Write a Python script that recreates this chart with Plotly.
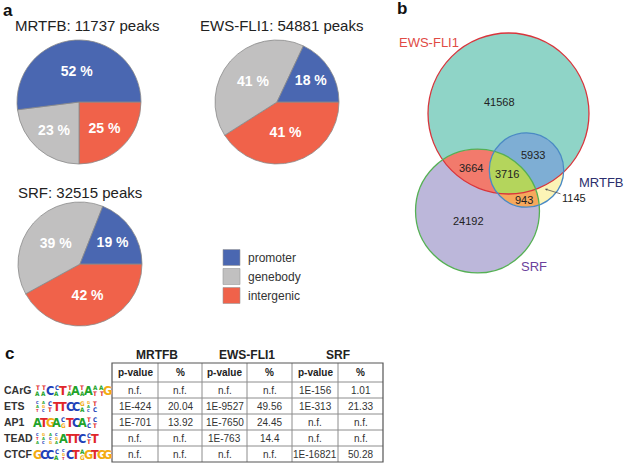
import numpy as np
import plotly.graph_objects as go

W, H = 626, 463
FONT = "Liberation Sans, Arial, sans-serif"

# ---------------- data ----------------
regions = ["promoter", "genebody", "intergenic"]
region_colors = ["#4a67b1", "#c1c0c0", "#f0624a"]
pie_names = ["MRTFB", "EWS-FLI1", "SRF"]
pie_peaks = [11737, 54881, 32515]
pie_values = [[52, 23, 25], [18, 41, 41], [19, 39, 42]]

venn_sets = ["EWS-FLI1", "SRF", "MRTFB"]
venn_only = {"EWS-FLI1": 41568, "SRF": 24192, "MRTFB": 1145}
venn_pair = {("EWS-FLI1", "SRF"): 3664, ("EWS-FLI1", "MRTFB"): 5933, ("SRF", "MRTFB"): 943}
venn_all = 3716

motif_names = ["CArG", "ETS", "AP1", "TEAD", "CTCF"]
motif_logos = [
    ["TA", "TA", "C", "CA", "T", "TA", "A", "TA", "A", "AT", "AT", "G"],
    ["CAT", "AGC", "CT", "T", "T", "C", "C", "GA", "GAC", "TC"],
    ["A", "T", "G", "A", "CG", "T", "C", "A", "TC", "CT"],
    ["CTA", "GAC", "ACG", "CGA", "A", "T", "T", "C", "CT", "T"],
    ["G", "C", "C", "CA", "CGT", "C", "T", "AG", "G", "T", "G", "G"],
]
letter_colors = {"A": "#22a32a", "C": "#2140b8", "G": "#f3ac12", "T": "#e0262a"}

table_groups = ["MRTFB", "EWS-FLI1", "SRF"]
table_header = ["p-value", "%", "p-value", "%", "p-value", "%"]
table_rows = [
    ["n.f.", "n.f.", "n.f.", "n.f.", "1E-156", "1.01"],
    ["1E-424", "20.04", "1E-9527", "49.56", "1E-313", "21.33"],
    ["1E-701", "13.92", "1E-7650", "24.45", "n.f.", "n.f."],
    ["n.f.", "n.f.", "1E-763", "14.4", "n.f.", "n.f."],
    ["n.f.", "n.f.", "n.f.", "n.f.", "1E-16821", "50.28"],
]

# ---------------- layout params ----------------
pie_centers = [(79, 102), (277, 102), (80, 264)]
pie_r = 62
pie_title_pos = [(13, 25), (198, 25), (16, 192)]

venn_centers = {"EWS-FLI1": (508.5, 113.5), "SRF": (477.5, 211.0), "MRTFB": (526.5, 170.0)}
venn_scale = 0.3436
venn_fill = {"EWS-FLI1": "#8fd4c7", "SRF": "#bcb7da", "MRTFB": "#fcf4b6"}
venn_line = {"EWS-FLI1": "#d8353c", "SRF": "#55b054", "MRTFB": "#4a8ac4"}
pair_fill = {("EWS-FLI1", "SRF"): "#f27a6c", ("EWS-FLI1", "MRTFB"): "#7eaed4", ("SRF", "MRTFB"): "#f6a85c"}
all_fill = "#b4d55c"

fig = go.Figure()

# ---------------- pies ----------------
# drawn clockwise from 3 o'clock in reversed category order (= counterclockwise in original order)
for i, name in enumerate(pie_names):
    cx, cy = pie_centers[i]
    fig.add_trace(go.Pie(
        values=pie_values[i][::-1], labels=regions[::-1], sort=False, direction="clockwise",
        rotation=90, marker=dict(colors=region_colors[::-1], line=dict(color="#8a8a8a", width=0.8)),
        texttemplate="<b>%{value} %</b>", textposition="inside", insidetextorientation="horizontal",
        textfont=dict(family=FONT, size=14, color="white"), showlegend=False, hoverinfo="label+percent",
        domain=dict(x=[(cx - pie_r) / W, (cx + pie_r) / W], y=[1 - (cy + pie_r) / H, 1 - (cy - pie_r) / H]),
    ))

# ---------------- venn ----------------
totals = {}
for s in venn_sets:
    t = venn_only[s] + venn_all
    for k, v in venn_pair.items():
        if s in k:
            t += v
    totals[s] = t
circ = {s: (venn_centers[s][0], venn_centers[s][1], venn_scale * np.sqrt(totals[s])) for s in venn_sets}


def region_poly(names, n=1440):
    cs = [circ[s] for s in names]
    pts = []
    for j, (cx, cy, r) in enumerate(cs):
        t = np.linspace(0, 2 * np.pi, n, endpoint=False)
        x, y = cx + r * np.cos(t), cy + r * np.sin(t)
        m = np.ones(n, bool)
        for k, (ox, oy, orr) in enumerate(cs):
            if k != j:
                m &= (x - ox) ** 2 + (y - oy) ** 2 <= orr ** 2 + 1e-6
        pts.append(np.c_[x[m], y[m]])
    p = np.vstack(pts)
    c = p.mean(axis=0)
    a = np.arctan2(p[:, 1] - c[1], p[:, 0] - c[0])
    p = p[np.argsort(a)]
    return np.r_[p, p[:1]]


def add_fill(names, color):
    p = region_poly(names)
    fig.add_trace(go.Scatter(x=p[:, 0], y=p[:, 1], mode="lines", fill="toself", fillcolor=color,
                             line=dict(width=0), hoverinfo="skip", showlegend=False))


add_fill(["EWS-FLI1"], venn_fill["EWS-FLI1"])
add_fill(["SRF"], venn_fill["SRF"])
add_fill(["EWS-FLI1", "SRF"], pair_fill[("EWS-FLI1", "SRF")])
add_fill(["MRTFB"], venn_fill["MRTFB"])
add_fill(["EWS-FLI1", "MRTFB"], pair_fill[("EWS-FLI1", "MRTFB")])
add_fill(["SRF", "MRTFB"], pair_fill[("SRF", "MRTFB")])
add_fill(["EWS-FLI1", "SRF", "MRTFB"], all_fill)

for s in venn_sets:
    cx, cy, r = circ[s]
    fig.add_shape(type="circle", xref="x", yref="y", x0=cx - r, x1=cx + r, y0=cy - r, y1=cy + r,
                  line=dict(color=venn_line[s], width=1.3), fillcolor="rgba(0,0,0,0)", layer="above")

num_font = dict(family=FONT, size=11, color="#222")
venn_num_pos = [
    (venn_only["EWS-FLI1"], 499, 102), (venn_only["SRF"], 468, 221),
    (venn_pair[("EWS-FLI1", "MRTFB")], 533, 155), (venn_pair[("EWS-FLI1", "SRF")], 471, 168),
    (venn_all, 507, 174), (venn_pair[("SRF", "MRTFB")], 524, 200),
]
for v, x, y in venn_num_pos:
    fig.add_annotation(x=x, y=y, xref="x", yref="y", text=str(v), showarrow=False, font=num_font)
fig.add_annotation(x=545, y=189, xref="x", yref="y", ax=574, ay=198, axref="x", ayref="y",
                   text=str(venn_only["MRTFB"]), showarrow=True, arrowhead=2, arrowsize=0.6,
                   arrowwidth=0.8, arrowcolor="#555", standoff=0, font=num_font)
fig.add_annotation(x=397, y=42, xref="x", yref="y", text="EWS-FLI1", showarrow=False, xanchor="left",
                   font=dict(family=FONT, size=13, color="#e04a44"))
fig.add_annotation(x=577, y=182, xref="x", yref="y", text="MRTFB", showarrow=False, xanchor="left",
                   font=dict(family=FONT, size=13, color="#2c2f6e"))
fig.add_annotation(x=519, y=266, xref="x", yref="y", text="SRF", showarrow=False, xanchor="left",
                   font=dict(family=FONT, size=13, color="#6b3f9c"))

# ---------------- pie titles / legend ----------------
for i, name in enumerate(pie_names):
    x, y = pie_title_pos[i]
    fig.add_annotation(x=x, y=y, xref="x", yref="y", text=f"{name}: {pie_peaks[i]} peaks", showarrow=False,
                       xanchor="left", font=dict(family=FONT, size=15, color="#222"))
for i, (lab, col) in enumerate(zip(regions, region_colors)):
    yc = 257.5 + 19 * i
    fig.add_shape(type="rect", xref="x", yref="y", x0=223, x1=240, y0=yc - 8, y1=yc + 8,
                  fillcolor=col, line=dict(color="#999", width=0.6))
    fig.add_annotation(x=246, y=yc, xref="x", yref="y", text=lab, showarrow=False, xanchor="left",
                       font=dict(family=FONT, size=12, color="#333"))

# panel letters
for t, x, y in [("a", 1, 10), ("b", 395, 8), ("c", 3, 353)]:
    fig.add_annotation(x=x, y=y, xref="x", yref="y", text=f"<b>{t}</b>", showarrow=False, xanchor="left",
                       font=dict(family=FONT, size=17, color="#111"))

# ---------------- table (grid + text) ----------------
tbl_left, tbl_right, tbl_top, tbl_bottom = 112, 383, 363, 462
colw = [46, 44, 45, 45, 46, 45]
header_h = 19
n_rows = len(table_rows)
row_h = (tbl_bottom - tbl_top - header_h) / n_rows
xb = np.cumsum([tbl_left] + [c * (tbl_right - tbl_left) / sum(colw) for c in colw])
yb = [tbl_top, tbl_top + header_h] + [tbl_top + header_h + row_h * (i + 1) for i in range(n_rows)]

for x in xb[1:-1]:
    fig.add_shape(type="line", xref="x", yref="y", x0=x, x1=x, y0=tbl_top, y1=tbl_bottom,
                  line=dict(color="#8c8c8c", width=1))
for y in yb[1:-1]:
    fig.add_shape(type="line", xref="x", yref="y", x0=tbl_left, x1=tbl_right, y0=y, y1=y,
                  line=dict(color="#8c8c8c", width=1))
fig.add_shape(type="rect", xref="x", yref="y", x0=tbl_left, x1=tbl_right, y0=tbl_top, y1=tbl_bottom,
              line=dict(color="#555", width=1.2), fillcolor="rgba(0,0,0,0)")

for c, h in enumerate(table_header):
    fig.add_annotation(x=(xb[c] + xb[c + 1]) / 2, y=tbl_top + header_h / 2, xref="x", yref="y",
                       text=f"<b>{h}</b>", showarrow=False, font=dict(family=FONT, size=10, color="#222"))
for r, row in enumerate(table_rows):
    yc = (yb[r + 1] + yb[r + 2]) / 2
    for c, v in enumerate(row):
        fig.add_annotation(x=(xb[c] + xb[c + 1]) / 2, y=yc, xref="x", yref="y", text=v, showarrow=False,
                           font=dict(family=FONT, size=10, color="#333"))
for g, name in enumerate(table_groups):
    fig.add_annotation(x=(xb[2 * g] + xb[2 * g + 2]) / 2, y=355, xref="x", yref="y", text=f"<b>{name}</b>",
                       showarrow=False, font=dict(family=FONT, size=12, color="#222"))

# motif labels and logos
LOGO_FONT = "DejaVu Sans Condensed, Liberation Sans Narrow, " + FONT
for i, (nm, logo) in enumerate(zip(motif_names, motif_logos)):
    yc = (yb[i + 1] + yb[i + 2]) / 2
    fig.add_annotation(x=2, y=yc, xref="x", yref="y", text=f"<b>{nm}</b>", showarrow=False, xanchor="left",
                       font=dict(family=FONT, size=10.5, color="#333"))
    for j, col in enumerate(logo):
        xc = 37.5 + 6.4 * j
        n = len(col)
        ht = 12.0
        top = yc - ht / 2
        for k, ch in enumerate(col):
            h = ht / n
            fig.add_annotation(x=xc, y=top + h * (k + 0.5), xref="x", yref="y", text=f"<b>{ch}</b>",
                               showarrow=False, yanchor="middle",
                               font=dict(family=LOGO_FONT, size=max(h * 1.05, 4), color=letter_colors[ch]))

fig.update_layout(
    width=W, height=H, margin=dict(l=0, r=0, t=0, b=0), paper_bgcolor="white", plot_bgcolor="white",
    xaxis=dict(range=[0, W], visible=False, fixedrange=True, domain=[0, 1]),
    yaxis=dict(range=[H, 0], visible=False, fixedrange=True, domain=[0, 1]),
    showlegend=False,
)
fig.write_html("out.html", config={"displayModeBar": False},
               post_script="document.body.style.margin='0';document.body.style.padding='0';")
